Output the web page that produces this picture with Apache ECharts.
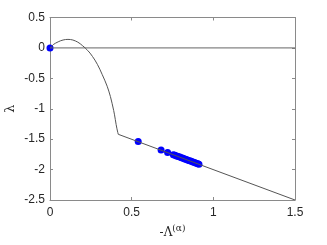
<!DOCTYPE html>
<html>
<head>
<meta charset="utf-8">
<script src="https://cdn.jsdelivr.net/npm/echarts@6/dist/echarts.min.js"></script>
<style>
html,body{margin:0;padding:0;background:#fff;}
#chart{width:327px;height:245px;}
</style>
</head>
<body>
<div id="chart"></div>
<script>
// curved branch
var curveX = [0, 0.01, 0.02, 0.035, 0.05, 0.065, 0.08, 0.095, 0.11, 0.125, 0.14, 0.155, 0.17, 0.185, 0.20, 0.215, 0.23, 0.245, 0.26, 0.275, 0.29, 0.305, 0.32, 0.335, 0.35, 0.36, 0.37, 0.38, 0.39, 0.395, 0.40, 0.405, 0.41, 0.415, 0.418];
var curveY = [0, 0.03, 0.055, 0.08, 0.10, 0.118, 0.13, 0.138, 0.14, 0.138, 0.13, 0.115, 0.095, 0.068, 0.035, 0.0, -0.04, -0.085, -0.14, -0.20, -0.27, -0.35, -0.44, -0.53, -0.63, -0.71, -0.80, -0.91, -1.03, -1.10, -1.18, -1.26, -1.33, -1.39, -1.42];
// straight branch
var lineX = [0.418, 1.5];
var lineY = [-1.42, -2.5];
// zero line
var zeroX = [0, 1.5];
var zeroY = [0, 0];
// blue markers
var dotX = [0, 0.54, 0.68, 0.72, 0.755, 0.765, 0.775, 0.785, 0.795, 0.805, 0.815, 0.825, 0.835, 0.845, 0.855, 0.865, 0.875, 0.885, 0.895, 0.905, 0.912];
var dotY = [0, -1.54, -1.68, -1.72, -1.755, -1.765, -1.775, -1.785, -1.795, -1.805, -1.815, -1.825, -1.835, -1.845, -1.855, -1.865, -1.875, -1.885, -1.895, -1.905, -1.912];

var xTicks = [0, 0.5, 1, 1.5];
var yTicks = [-2.5, -2, -1.5, -1, -0.5, 0, 0.5];

function pairs(xs, ys){
    var out = [];
    for(var i=0;i<xs.length;i++) out.push([xs[i], ys[i]]);
    return out;
}

var axisCol = '#8a8a8a';
var lblCol = '#262626';
var chart = echarts.init(document.getElementById('chart'));

var option = {
    animation: false,
    backgroundColor: '#fff',
    grid: {left: 50, right: 32, top: 17.5, bottom: 45, outerBoundsMode: 'none', containLabel: false},
    xAxis: [{
        type: 'value', min: xTicks[0], max: xTicks[xTicks.length-1], interval: 0.5,
        position: 'bottom',
        axisLine: {show: true, onZero: false, lineStyle: {color: axisCol, width: 1}},
        axisTick: {show: true, inside: true, length: 3, lineStyle: {color: axisCol}},
        splitLine: {show: false},
        axisLabel: {color: lblCol, fontSize: 12, fontFamily: 'Liberation Sans', margin: 7},
        name: '-Λ{sup|(α)}',
        nameLocation: 'middle', nameGap: 23,
        nameTextStyle: {
            color: lblCol, fontSize: 12, fontFamily: 'DejaVu Serif',
            rich: {sup: {fontSize: 9, fontFamily: 'DejaVu Serif', color: lblCol, verticalAlign: 'top', padding: [0,0,8,0]}}
        }
    }, {
        type: 'value', min: xTicks[0], max: xTicks[xTicks.length-1], interval: 0.5,
        position: 'top',
        axisLine: {show: true, onZero: false, lineStyle: {color: axisCol, width: 1}},
        axisTick: {show: true, inside: true, length: 3, lineStyle: {color: axisCol}},
        splitLine: {show: false},
        axisLabel: {show: false}
    }],
    yAxis: [{
        type: 'value', min: yTicks[0], max: yTicks[yTicks.length-1], interval: 0.5,
        position: 'left',
        axisLine: {show: true, onZero: false, lineStyle: {color: axisCol, width: 1}},
        axisTick: {show: true, inside: true, length: 3, lineStyle: {color: axisCol}},
        splitLine: {show: false},
        axisLabel: {color: lblCol, fontSize: 12, fontFamily: 'Liberation Sans', margin: 5},
        name: 'λ',
        nameLocation: 'middle', nameGap: 33, nameRotate: 90, nameMoveOverlap: false,
        nameTextStyle: {color: lblCol, fontSize: 13, fontFamily: 'DejaVu Serif'}
    }, {
        type: 'value', min: yTicks[0], max: yTicks[yTicks.length-1], interval: 0.5,
        position: 'right',
        axisLine: {show: true, onZero: false, lineStyle: {color: axisCol, width: 1}},
        axisTick: {show: true, inside: true, length: 3, lineStyle: {color: axisCol}},
        splitLine: {show: false},
        axisLabel: {show: false}
    }],
    series: [{
        type: 'line', data: pairs(zeroX, zeroY), symbol: 'none',
        lineStyle: {color: '#666', width: 1}
    }, {
        type: 'line', data: pairs(curveX, curveY), symbol: 'none',
        lineStyle: {color: '#555', width: 1}
    }, {
        type: 'line', data: pairs(lineX, lineY), symbol: 'none',
        lineStyle: {color: '#555', width: 1}
    }, {
        type: 'scatter', data: pairs(dotX, dotY), symbolSize: 7,
        itemStyle: {color: '#0000ff', opacity: 1}
    }]
};
chart.setOption(option);
</script>
</body>
</html>
